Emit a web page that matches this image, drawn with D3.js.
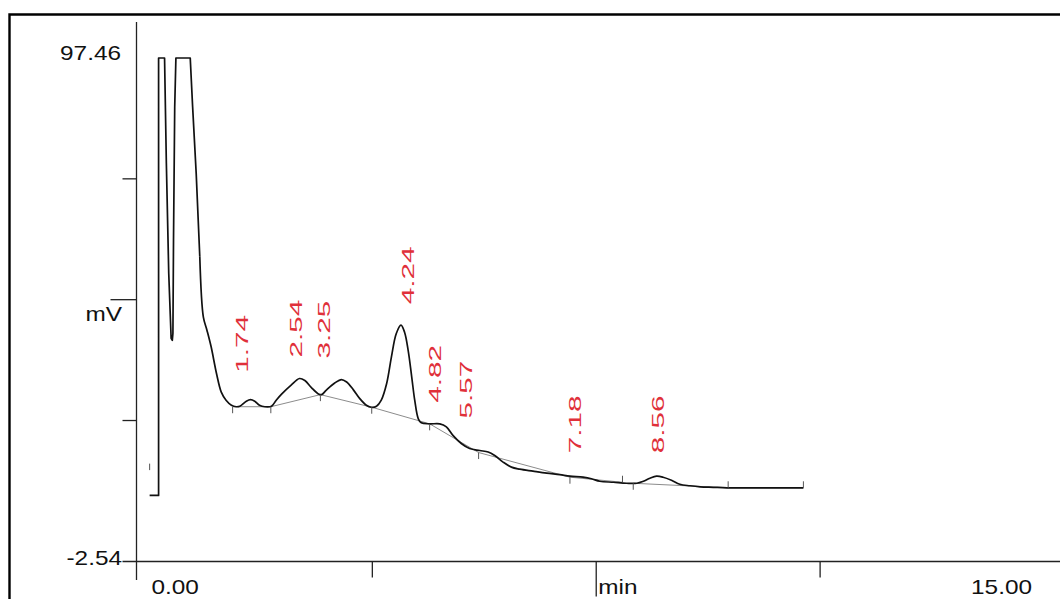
<!DOCTYPE html>
<html>
<head>
<meta charset="utf-8">
<script src="https://cdn.jsdelivr.net/npm/d3@7"></script>
<style>
  html, body { margin: 0; padding: 0; background: #fff; }
  svg { display: block; }
  text { font-family: "Liberation Sans", Arial, sans-serif; }
</style>
</head>
<body>
<svg id="chart" width="1060" height="599"></svg>
<script>
// ---- Detector trace: retention time (min) and signal (mV) ----
const traceTime = [
  0.02, 0.17, 0.17, 0.27, 0.30, 0.34, 0.38, 0.40, 0.41, 0.42, 0.44, 0.46,
  0.70, 0.74, 0.80, 0.86, 0.92, 0.98, 1.05, 1.14, 1.22, 1.30, 1.39, 1.47,
  1.53, 1.64, 1.71, 1.78, 1.86, 1.95, 2.06, 2.14, 2.23, 2.39, 2.53, 2.62,
  2.73, 2.84, 2.90, 2.98, 3.12, 3.23, 3.32, 3.43, 3.54, 3.65, 3.73, 3.82,
  3.90, 3.99, 4.07, 4.15, 4.23, 4.29, 4.35, 4.41, 4.46, 4.52, 4.57, 4.71,
  4.88, 4.99, 5.10, 5.24, 5.38, 5.55, 5.69, 5.80, 5.94, 6.08, 6.22, 6.44,
  6.67, 6.89, 7.06, 7.28, 7.42, 7.56, 7.79, 8.01, 8.18, 8.29, 8.40, 8.51,
  8.62, 8.76, 8.90, 9.07, 9.24, 9.46, 9.69, 10.13, 10.97
];
const traceMv = [
  10.58, 10.58, 97.46, 97.46, 76.6, 54.7, 41.8, 41.4, 42.8, 61.3, 87.7, 97.46,
  97.46, 87.8, 74.5, 58.0, 46.0, 43.4, 40.1, 34.8, 31.1, 29.5, 28.5, 28.2,
  28.3, 29.3, 29.6, 29.3, 28.5, 28.2, 28.3, 29.5, 30.7, 32.5, 33.8, 33.4,
  32.0, 30.8, 30.6, 31.5, 32.9, 33.6, 33.1, 31.6, 29.8, 28.5, 28.1, 28.3,
  29.5, 32.8, 38.1, 42.7, 44.4, 43.0, 39.4, 34.1, 29.5, 25.8, 25.0, 24.8,
  24.8, 24.2, 22.5, 20.9, 19.9, 19.5, 19.2, 18.5, 17.2, 16.2, 15.8, 15.4,
  15.0, 14.7, 14.4, 14.2, 13.9, 13.4, 13.2, 13.0, 13.0, 13.4, 14.0, 14.4,
  14.2, 13.6, 12.8, 12.5, 12.3, 12.2, 12.1, 12.1, 12.1
];
// the detector saturates during injection: that stretch is drawn with straight segments
const saturatedUntil = 0.86;

// ---- Integration baselines: [t0, mV0, t1, mV1] ----
const baselineSegments = [
  [1.41, 28.2, 2.05, 28.2],
  [2.05, 28.2, 2.88, 30.6],
  [2.88, 30.6, 3.74, 28.1],
  [3.74, 28.1, 4.71, 24.8],
  [4.71, 24.8, 5.53, 19.1],
  [5.53, 19.1, 7.06, 14.2],
  [7.06, 14.2, 7.94, 13.2],
  [8.12, 13.0, 9.71, 12.1],
  [9.71, 12.1, 10.97, 12.1]
];

// ---- Peak start/end events: [time, mV, side] (side +1 above, -1 below) ----
const eventMarks = [
  [0.02, 16.9, -1],
  [1.41, 28.2, -1], [2.05, 28.2, -1], [2.88, 30.6, -1], [3.74, 28.1, -1],
  [4.71, 24.8, -1], [5.53, 19.1, -1], [7.06, 14.2, -1], [7.94, 13.2, 1],
  [8.12, 13.0, -1], [9.71, 12.1, 1], [10.97, 12.1, 1]
];

// ---- Peaks: retention-time labels and apex heights (mV) ----
const peakLabels = ["1.74", "2.54", "3.25", "4.24", "4.82", "5.57", "7.18", "8.56"];
const peakTimes  = [1.74, 2.54, 3.25, 4.24, 4.82, 5.57, 7.18, 8.56];
const peakApexMv = [29.6, 33.8, 33.6, 44.4, 24.8, 19.5, 14.4, 14.4];

// ---- Axes ----
const yDomain = [-2.54, 97.46];
const yTickValues = [25.46, 49.46, 73.46];
const yTopLabel = "97.46";
const yBottomLabel = "-2.54";
const yUnit = "mV";

const xDomain = [-0.2, 15];
const xTickValues = [3.75, 7.5, 11.25];
const xStartLabel = "0.00";
const xEndLabel = "15.00";
const xUnit = "min";

// ---- Layout ----
const svg = d3.select("#chart");
const x = d3.scaleLinear().domain(xDomain).range([136.5, 1044]);
const y = d3.scaleLinear().domain(yDomain).range([561.5, 58]);
const axisX = x(xDomain[0]);
const axisY = y(yDomain[0]);
const labelStretch = 1.16;
// small shifts that keep crowded peak labels apart: [dx, dy]
const labelNudge = {
  "1.74": [-10, -6], "2.54": [-4, 0], "3.25": [-18, 0], "4.24": [6, 0],
  "4.82": [-1, 0], "5.57": [-15, -11], "7.18": [-2, -2], "8.56": [-1, -2]
};

// outer frame
svg.append("path")
  .attr("d", "M9.5,599 V14.5 H1060")
  .attr("fill", "none")
  .attr("stroke", "#000")
  .attr("stroke-width", 2.4);

// y axis
const yAxis = svg.append("g");
yAxis.append("line")
  .attr("x1", axisX).attr("x2", axisX)
  .attr("y1", 22).attr("y2", 580)
  .attr("stroke", "#222").attr("stroke-width", 1.3);
yAxis.selectAll("line.tick")
  .data(yTickValues)
  .join("line")
  .attr("class", "tick")
  .attr("x1", (d, i) => axisX - (i === 1 ? 26 : 14))
  .attr("x2", axisX)
  .attr("y1", d => y(d)).attr("y2", d => y(d))
  .attr("stroke", "#222").attr("stroke-width", 1.3);

// x axis
const xAxis = svg.append("g");
xAxis.append("line")
  .attr("x1", axisX - 14).attr("x2", 1060)
  .attr("y1", axisY).attr("y2", axisY)
  .attr("stroke", "#222").attr("stroke-width", 1.4);
xAxis.selectAll("line.tick")
  .data(xTickValues)
  .join("line")
  .attr("class", "tick")
  .attr("x1", d => x(d)).attr("x2", d => x(d))
  .attr("y1", axisY)
  .attr("y2", (d, i) => axisY + (i === 1 ? 35 : 16))
  .attr("stroke", "#222").attr("stroke-width", 1.3);

// axis texts
function axisText(str, px, py, anchor) {
  svg.append("text")
    .attr("transform", `translate(${px},${py}) scale(${labelStretch},1)`)
    .attr("text-anchor", anchor)
    .attr("font-size", 21)
    .attr("fill", "#111")
    .text(str);
}
axisText(yTopLabel, axisX - 15.5, y(yDomain[1]) + 2, "end");
axisText(yBottomLabel, axisX - 14.5, axisY + 3.5, "end");
axisText(yUnit, axisX - 14.5, y(yTickValues[1]) + 21, "end");
axisText(xStartLabel, x(0) + 3, 594, "start");
axisText(xUnit, x(xTickValues[1]) + 2, 594, "start");
axisText(xEndLabel, x(xDomain[1]) - 12, 594, "end");

// integration baselines
svg.append("g")
  .selectAll("line")
  .data(baselineSegments)
  .join("line")
  .attr("x1", d => x(d[0])).attr("y1", d => y(d[1]))
  .attr("x2", d => x(d[2])).attr("y2", d => y(d[3]))
  .attr("stroke", "#8c8c8c")
  .attr("stroke-width", 1);

// detector trace: straight segments while saturated, smooth afterwards
const idx = d3.range(traceTime.length);
const split = idx.findIndex(i => traceTime[i] >= saturatedUntil);
const straight = d3.line()
  .x(i => x(traceTime[i]))
  .y(i => y(traceMv[i]));
const smooth = d3.line()
  .x(i => x(traceTime[i]))
  .y(i => y(traceMv[i]))
  .curve(d3.curveCatmullRom.alpha(0.5));
const traceG = svg.append("g")
  .attr("fill", "none")
  .attr("stroke", "#111")
  .attr("stroke-width", 1.7)
  .attr("stroke-linejoin", "round");
traceG.append("path").attr("d", straight(idx.slice(0, split + 1)));
traceG.append("path").attr("d", smooth(idx.slice(split)));

// peak start/end marks
svg.append("g")
  .selectAll("line")
  .data(eventMarks)
  .join("line")
  .attr("x1", d => x(d[0])).attr("x2", d => x(d[0]))
  .attr("y1", d => y(d[1]))
  .attr("y2", d => y(d[1]) - d[2] * 6.5)
  .attr("stroke", "#555")
  .attr("stroke-width", 1);

// retention-time labels (rotated)
svg.append("g")
  .selectAll("text")
  .data(peakLabels)
  .join("text")
  .attr("transform", (d, i) => {
    const n = labelNudge[d] || [0, 0];
    const px = x(peakTimes[i]) + n[0];
    const py = y(peakApexMv[i]) - 21 + n[1];
    return `translate(${px},${py}) rotate(-90) scale(1.8,1)`;
  })
  .attr("dy", "0.36em")
  .attr("text-anchor", "start")
  .attr("font-size", 16.5)
  .attr("fill", "#e0303a")
  .text(d => d);
</script>
</body>
</html>
